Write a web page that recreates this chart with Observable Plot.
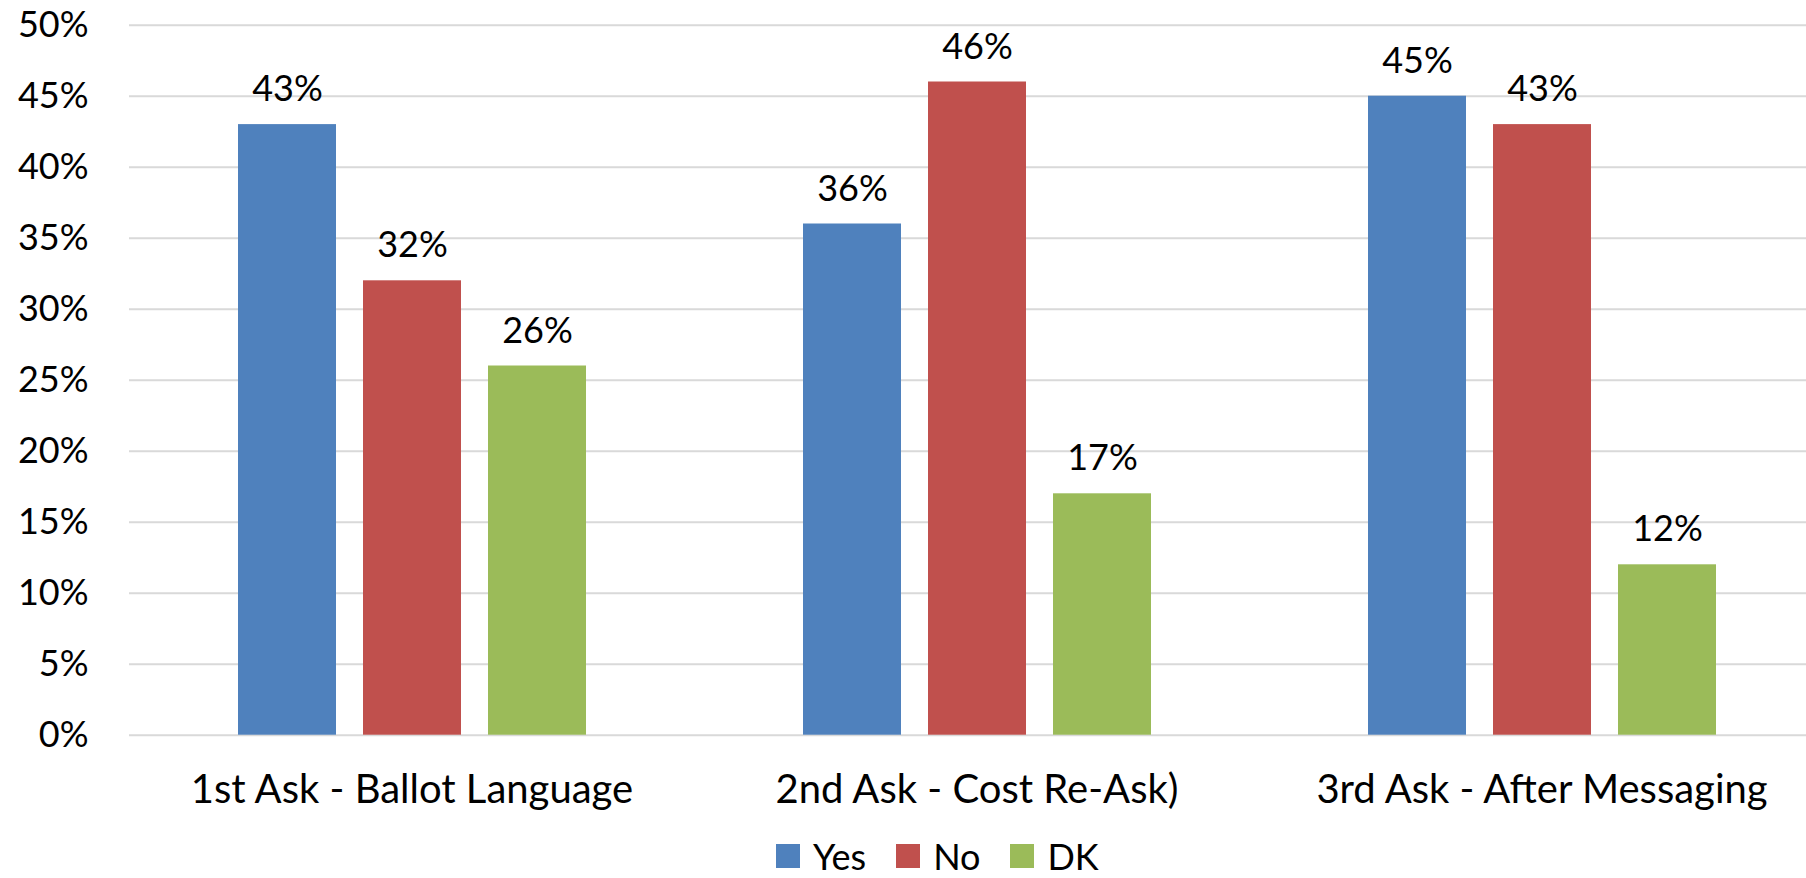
<!DOCTYPE html>
<html>
<head>
<meta charset="utf-8">
<script src="https://cdn.jsdelivr.net/npm/d3@7"></script>
<script src="https://cdn.jsdelivr.net/npm/@observablehq/plot@0.6"></script>
<style>
  html, body { margin: 0; padding: 0; background: white; overflow: hidden; }
  #chart { width: 1806px; height: 878px; position: relative; }
  #chart div.lg-swatches { margin: 0 0 0 776px !important; height: 48px !important; min-height: 0 !important; display: flex !important; align-items: center !important; padding-top: 4px; box-sizing: border-box; }
  #chart .lg-swatch { margin-right: 30px !important; display: inline-flex; align-items: center; }
  #chart .lg-swatch > svg { margin-right: 13px !important; }
</style>
</head>
<body>
<div id="chart"></div>
<script>
const categories = ["1st Ask - Ballot Language", "2nd Ask - Cost Re-Ask)", "3rd Ask - After Messaging"];
const seriesNames = ["Yes", "No", "DK"];
const yesValues = [0.43, 0.36, 0.45];
const noValues = [0.32, 0.46, 0.43];
const dkValues = [0.26, 0.17, 0.12];
const seriesColors = ["#4F81BD", "#C0504D", "#9BBB59"];
const yTicks = [0, 0.05, 0.10, 0.15, 0.20, 0.25, 0.30, 0.35, 0.40, 0.45, 0.50];

const seriesValues = {Yes: yesValues, No: noValues, DK: dkValues};
const rows = categories.flatMap((category, i) =>
  seriesNames.map(series => ({category, series, value: seriesValues[series][i]}))
);

const pct = d3.format(".0%");
const FONT = "Lato, 'Noto Sans', sans-serif";

const chart = Plot.plot({
  width: 1806,
  height: 830,
  marginLeft: 128,
  marginRight: -18,
  marginTop: 24.7,
  marginBottom: 95.3,
  style: {fontFamily: FONT, fontSize: "36px", color: "black", background: "white", overflow: "hidden"},
  fx: {domain: categories, padding: 0, label: null},
  x: {domain: seriesNames, paddingInner: 0.216, paddingOuter: 0.86, axis: null},
  y: {domain: [0, 0.5], label: null},
  color: {domain: seriesNames, range: seriesColors},
  marks: [
    Plot.gridY(yTicks, {stroke: "#D9D9D9", strokeOpacity: 1, strokeWidth: 2}),
    Plot.axisY(yTicks, {tickSize: 0, tickPadding: 41, tickFormat: pct, label: null, fill: "black"}),
    Plot.axisFx({anchor: "bottom", tickSize: 0, tickPadding: 39, label: null, fill: "black", fontSize: 40}),
    Plot.barY(rows, {fx: "category", x: "series", y: "value", fill: "series"}),
    Plot.text(rows, {fx: "category", x: "series", y: "value", text: d => pct(d.value), dy: -35, fill: "black"})
  ]
});

const legend = Plot.legend({
  color: {domain: seriesNames, range: seriesColors},
  legend: "swatches",
  swatchSize: 24,
  className: "lg",
  style: {fontFamily: FONT, fontSize: "36px", color: "black"}
});

const root = document.getElementById("chart");
root.appendChild(chart);
root.appendChild(legend);
</script>
</body>
</html>
